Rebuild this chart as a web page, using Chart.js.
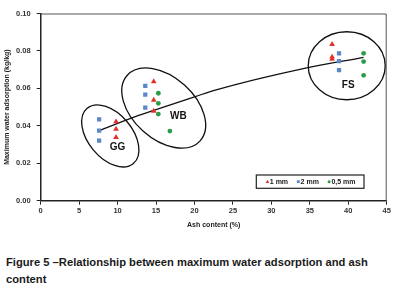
<!DOCTYPE html>
<html><head><meta charset="utf-8">
<script src="https://cdn.jsdelivr.net/npm/chart.js@4.4.1/dist/chart.umd.min.js"></script>
<style>
html,body{margin:0;padding:0;background:#fff;width:408px;height:306px;overflow:hidden}
#wrap{position:absolute;left:0;top:0;width:408px;height:232px}
#cap{position:absolute;left:6px;top:254px;width:380px;font:bold 11.2px "Liberation Sans",Arial,sans-serif;line-height:16.6px;color:#1a1a1a}
</style></head><body>
<div id="wrap"><canvas id="c" width="408" height="232"></canvas></div>
<div id="cap">Figure 5 –Relationship between maximum water adsorption and ash content</div>
<script>
// ---- data ----
const seriesLabels = ['1 mm', '2 mm', '0,5 mm'];
const ash1mm = [9.8, 9.8, 9.8, 14.7, 14.7, 14.7, 37.9, 37.9, 37.9];
const adsorption1mm = [0.0422, 0.0383, 0.0339, 0.0636, 0.0538, 0.0479, 0.0835, 0.0768, 0.0756];
const ash2mm = [7.6, 7.6, 7.6, 13.6, 13.6, 13.6, 38.8, 38.8, 38.8];
const adsorption2mm = [0.0435, 0.0374, 0.0321, 0.0613, 0.0566, 0.0497, 0.0787, 0.0745, 0.0698];
const ash05mm = [15.3, 15.3, 15.3, 16.8, 42.0, 42.0, 42.0];
const adsorption05mm = [0.0574, 0.0520, 0.0463, 0.0372, 0.0787, 0.0743, 0.0670];
const trendAsh = [7.5, 12.3, 14.9, 20.1, 22.7, 33.7, 42.0];
const trendAdsorption = [0.0372, 0.0449, 0.0485, 0.0556, 0.0591, 0.0702, 0.0766];
const xTickValues = [0, 5, 10, 15, 20, 25, 30, 35, 40, 45];
const yTickValues = [0, 0.02, 0.04, 0.06, 0.08, 0.10];
const groupNames = ['GG', 'WB', 'FS'];
const groupCentreAsh = [9.05, 16.0, 39.8];
const groupCentreAdsorption = [0.0346, 0.0495, 0.0721];
const groupLabelAsh = [10.0, 17.9, 40.0];
const groupLabelAdsorption = [0.0283, 0.0449, 0.0618];

// ---- styling ----
const FONT = '"Liberation Sans", Arial, sans-serif';
const colors = ['#e5302a', '#5a86cc', '#2c9c48'];
const shapes = ['triangle', 'rect', 'circle'];
const radii = [3.3, 3.0, 2.4];
const ellipseShape = [ // pixel radii & rotation
  {rx: 36, ry: 22, rot: 50},
  {rx: 49, ry: 31, rot: 42},
  {rx: 38.5, ry: 34, rot: 0}
];

const zip = (xs, ys) => xs.map((x, i) => ({x, y: ys[i]}));
const seriesData = [zip(ash1mm, adsorption1mm), zip(ash2mm, adsorption2mm), zip(ash05mm, adsorption05mm)];

const datasets = seriesData.map((d, i) => ({
  label: seriesLabels[i], data: d, pointStyle: shapes[i], pointRadius: radii[i],
  backgroundColor: colors[i], borderColor: colors[i], pointBorderWidth: 0, borderWidth: 0
}));
datasets.push({
  type: 'line', label: 'trend', data: zip(trendAsh, trendAdsorption),
  borderColor: '#111', borderWidth: 1.3, pointRadius: 0, fill: false,
  cubicInterpolationMode: 'monotone'
});

const annot = {
  id: 'annot',
  afterDatasetsDraw(chart) {
    const {ctx, scales: {x, y}, chartArea: ca} = chart;
    ctx.save();
    // frame
    ctx.strokeStyle = '#555'; ctx.lineWidth = 1;
    ctx.beginPath();
    ctx.moveTo(ca.left, ca.top + 0.5); ctx.lineTo(ca.right - 0.5, ca.top + 0.5); ctx.lineTo(ca.right - 0.5, ca.bottom);
    ctx.stroke();
    // ellipses
    ctx.strokeStyle = '#111'; ctx.lineWidth = 1.3;
    groupNames.forEach((g, i) => {
      const e = ellipseShape[i];
      ctx.beginPath();
      ctx.ellipse(x.getPixelForValue(groupCentreAsh[i]), y.getPixelForValue(groupCentreAdsorption[i]),
        e.rx, e.ry, e.rot * Math.PI / 180, 0, Math.PI * 2);
      ctx.stroke();
      ctx.fillStyle = '#111';
      ctx.font = 'bold 10px ' + FONT;
      ctx.textAlign = 'center'; ctx.textBaseline = 'middle';
      ctx.fillText(g, x.getPixelForValue(groupLabelAsh[i]), y.getPixelForValue(groupLabelAdsorption[i]));
    });
    // legend
    ctx.font = 'bold 7px ' + FONT;
    const boxRight = ca.right - 22.7, boxBottom = ca.bottom - 12.4, boxH = 13.3;
    let w = 10;
    seriesLabels.forEach((l, i) => { w += 4 + ctx.measureText(l).width + (i < 2 ? 9 : 7); });
    const bx = boxRight - w, by = boxBottom - boxH;
    ctx.fillStyle = '#fff'; ctx.fillRect(bx, by, w, boxH);
    ctx.strokeStyle = '#222'; ctx.lineWidth = 1.2; ctx.strokeRect(bx, by, w, boxH);
    let px = bx + 10; const cy = by + boxH / 2;
    seriesLabels.forEach((l, i) => {
      ctx.fillStyle = colors[i];
      const mx = px + 1.2;
      ctx.beginPath();
      if (shapes[i] === 'triangle') { ctx.moveTo(mx, cy - 2); ctx.lineTo(mx + 1.8, cy + 1.3); ctx.lineTo(mx - 1.8, cy + 1.3); ctx.closePath(); ctx.fill(); }
      else if (shapes[i] === 'rect') { ctx.fillRect(mx - 1.4, cy - 1.4, 2.8, 2.8); }
      else { ctx.arc(mx, cy, 1.5, 0, Math.PI * 2); ctx.fill(); }
      px += 3.5;
      ctx.fillStyle = '#222'; ctx.textAlign = 'left'; ctx.textBaseline = 'middle';
      ctx.fillText(l, px, cy + 0.5);
      px += ctx.measureText(l).width + 9;
    });
    ctx.restore();
  }
};

new Chart(document.getElementById('c'), {
  type: 'scatter',
  data: {datasets},
  plugins: [annot],
  options: {
    responsive: false, animation: false, events: [],
    layout: {padding: {left: 0, top: 13.5, right: 21.3, bottom: 0}},
    plugins: {legend: {display: false}, tooltip: {enabled: false}},
    scales: {
      x: {
        type: 'linear', min: 0, max: 45,
        afterBuildTicks: s => { s.ticks = xTickValues.map(v => ({value: v})); },
        afterFit: s => { s.height = 31.3; },
        ticks: {font: {family: FONT, size: 7.5, weight: 'bold'}, color: '#333', padding: 2},
        grid: {drawOnChartArea: false, drawTicks: true, tickLength: 4, color: '#222', lineWidth: 1},
        border: {color: '#222', width: 1.5},
        title: {display: true, text: 'Ash content (%)', font: {family: FONT, size: 7, weight: 'bold'}, color: '#222', padding: {top: 0, bottom: 3}}
      },
      y: {
        type: 'linear', min: 0, max: 0.1,
        afterBuildTicks: s => { s.ticks = yTickValues.map(v => ({value: v})); },
        afterFit: s => { s.width = 40.7; },
        ticks: {font: {family: FONT, size: 7.5, weight: 'bold'}, color: '#333', padding: 6, callback: v => v.toFixed(2)},
        grid: {drawOnChartArea: false, drawTicks: true, tickLength: 4, color: '#222', lineWidth: 1},
        border: {color: '#222', width: 1.5},
        title: {display: true, text: 'Maximum water adsorption (kg/kg)', font: {family: FONT, size: 7, weight: 'bold'}, color: '#222', padding: {top: 3, bottom: 0}}
      }
    }
  }
});
</script>
</body></html>
